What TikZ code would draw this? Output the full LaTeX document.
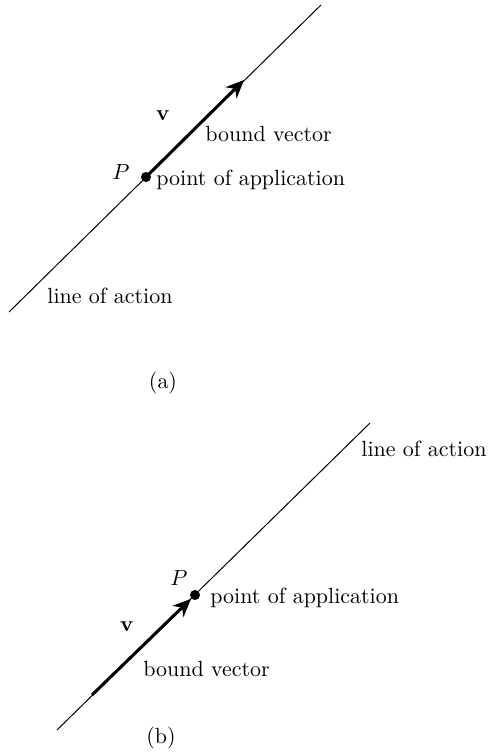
\documentclass[tikz,border=0pt]{standalone}
\usepackage{amsmath}
\usetikzlibrary{positioning, arrows.meta}
\tikzset{
  actline/.style = {line width=0.45pt},
  boundvec/.style = {-{Stealth[length=2.9mm,width=2.5mm,inset=0.9mm]}, line width=1.4pt},
  dot/.style = {circle, fill=black, inner sep=0pt, minimum size=4.6pt},
  lbl/.style = {anchor=west, inner sep=0pt},
}
\begin{document}
\begin{tikzpicture}[x=0.016cm, y=-0.016cm]
  \useasboundingbox (0,0) rectangle (487,752);

  % (a) vector starts at P
  \coordinate (la0) at (9,312);
  \coordinate (la1) at (321,5);
  \node[dot] (pa) at (146,177) {};
  \coordinate (va) at (244,80);
  \draw[actline] (la0) -- (la1);
  \draw[boundvec] (pa.center) -- (va);

  \node (Pa) at (121,172) {$P$};
  \node (vlbla) at (163,116) {$\mathbf{v}$};
  \node[lbl] (bva) at (205,134) {bound vector};
  \node[lbl] (poa) at (156,180) {point of application};
  \node[lbl] (loa) at (47,296) {line of action};
  \node (capa) at (163,383) {(a)};

  % (b) vector ends at P
  \coordinate (lb0) at (57,730);
  \coordinate (lb1) at (370,423);
  \node[dot] (pb) at (195,595) {};
  \coordinate (vb) at (92,695);
  \draw[actline] (lb0) -- (lb1);
  \draw[boundvec] (vb) -- (pb);

  \node (Pb) at (179,578) {$P$};
  \node (vlblb) at (127,627) {$\mathbf{v}$};
  \node[lbl] (bvb) at (143,669) {bound vector};
  \node[lbl] (pob) at (210,598) {point of application};
  \node[lbl] (lob) at (361,449) {line of action};
  \node (capb) at (161,738) {(b)};
\end{tikzpicture}
\end{document}
